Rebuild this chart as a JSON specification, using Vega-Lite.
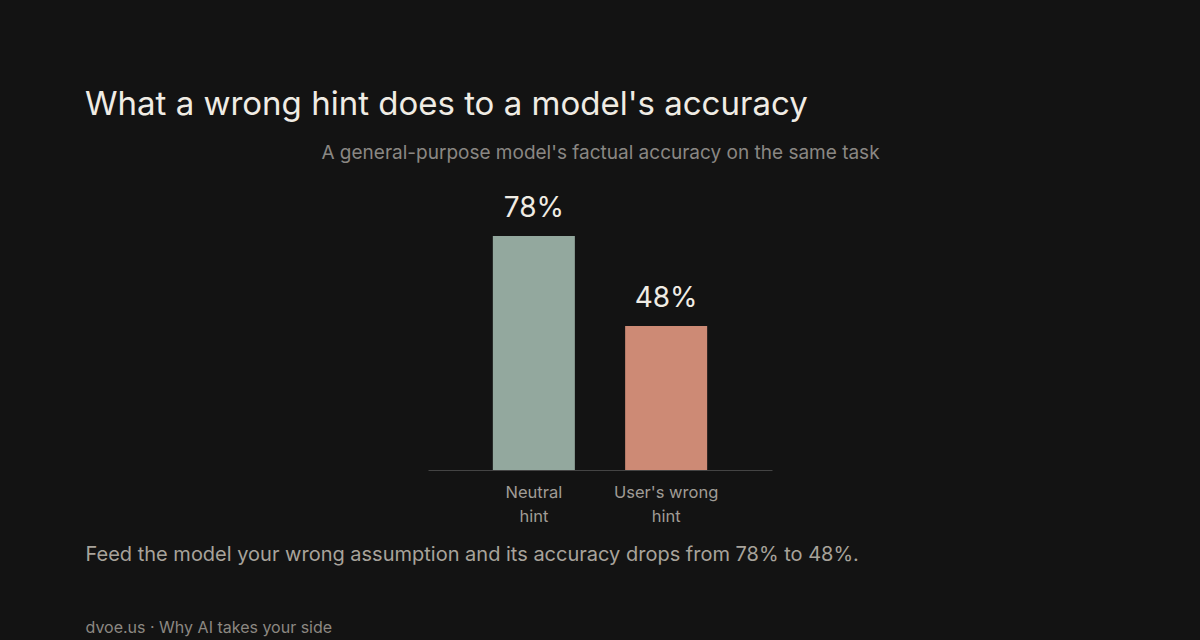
{
  "$schema": "https://vega.github.io/schema/vega-lite/v6.json",
  "width": 344,
  "height": 300,
  "autosize": {"type": "none"},
  "padding": {"left": 428, "top": 170, "right": 428, "bottom": 170},
  "background": "#131313",
  "config": {
    "view": {"stroke": null},
    "font": "Inter"
  },
  "title": {
    "text": "What a wrong hint does to a model's accuracy",
    "anchor": "start",
    "frame": "group",
    "dx": -343,
    "dy": 59,
    "offset": 54,
    "baseline": "alphabetic",
    "fontSize": 33,
    "fontWeight": "normal",
    "color": "#f0ece4"
  },
  "data": {
    "values": [
      {"condition": "Neutral hint", "accuracy": 78, "label": "78%"},
      {"condition": "User's wrong hint", "accuracy": 48, "label": "48%"}
    ]
  },
  "layer": [
    {
      "mark": {"type": "bar"},
      "encoding": {
        "x": {
          "field": "condition",
          "type": "nominal",
          "sort": null,
          "scale": {"paddingInner": 0.38, "paddingOuter": 0.49},
          "axis": {
            "title": "Feed the model your wrong assumption and its accuracy drops from 78% to 48%.",
            "titleX": -343,
            "titleY": 90,
            "titleAlign": "left",
            "titleAnchor": "start",
            "titleBaseline": "alphabetic",
            "titleFontSize": 20,
            "titleFontWeight": "normal",
            "titleColor": "#a8a39b",
            "labelAngle": 0,
            "labelExpr": "datum.label == 'Neutral hint' ? ['Neutral', 'hint'] : ['User\\'s wrong', 'hint']",
            "labelFontSize": 16.5,
            "labelLineHeight": 24,
            "labelColor": "#a09c96",
            "labelPadding": 14,
            "ticks": false,
            "domainColor": "#444444",
            "domainWidth": 1
          }
        },
        "y": {
          "field": "accuracy",
          "type": "quantitative",
          "scale": {"domain": [0, 100]},
          "axis": {
            "title": "A general-purpose model's factual accuracy on the same task",
            "titleAngle": 0,
            "titleX": 172,
            "titleY": -12,
            "titleAlign": "center",
            "titleBaseline": "alphabetic",
            "titleFontSize": 19,
            "titleFontWeight": "normal",
            "titleColor": "#8a8783",
            "labels": false,
            "ticks": false,
            "domain": false,
            "grid": false
          }
        },
        "color": {
          "field": "condition",
          "type": "nominal",
          "scale": {
            "domain": ["Neutral hint", "User's wrong hint"],
            "range": ["#93a89e", "#cd8a75"]
          },
          "legend": null
        }
      }
    },
    {
      "mark": {
        "type": "text",
        "baseline": "alphabetic",
        "dy": -19,
        "fontSize": 28,
        "color": "#f0ece4"
      },
      "encoding": {
        "x": {"field": "condition", "type": "nominal", "sort": null},
        "y": {
          "field": "accuracy",
          "type": "quantitative",
          "axis": {
            "orient": "right",
            "title": "dvoe.us · Why AI takes your side",
            "titleAngle": 0,
            "titleX": -687,
            "titleY": 462,
            "titleAlign": "left",
            "titleBaseline": "alphabetic",
            "titleFontSize": 16,
            "titleFontWeight": "normal",
            "titleColor": "#8c8882",
            "labels": false,
            "ticks": false,
            "domain": false,
            "grid": false
          }
        },
        "text": {"field": "label", "type": "nominal"}
      }
    }
  ],
  "resolve": {"axis": {"y": "independent"}}
}
